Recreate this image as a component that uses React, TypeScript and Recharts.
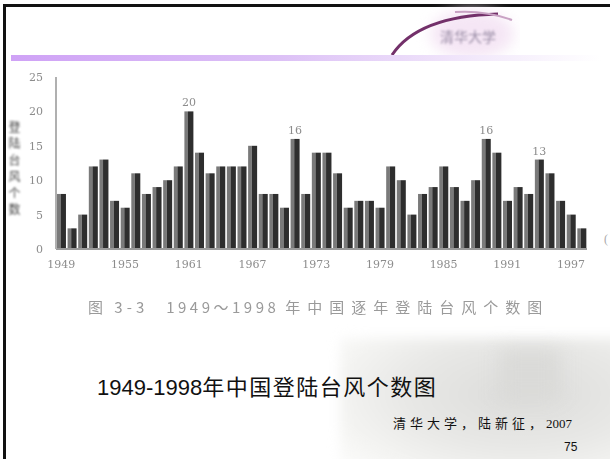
import { BarChart, Bar, XAxis, YAxis, LabelList } from 'recharts';

// Typhoon landfalls in China per year, 1949-1998
const YEARS = [
  '1949', '1950', '1951', '1952', '1953', '1954', '1955', '1956', '1957', '1958',
  '1959', '1960', '1961', '1962', '1963', '1964', '1965', '1966', '1967', '1968',
  '1969', '1970', '1971', '1972', '1973', '1974', '1975', '1976', '1977', '1978',
  '1979', '1980', '1981', '1982', '1983', '1984', '1985', '1986', '1987', '1988',
  '1989', '1990', '1991', '1992', '1993', '1994', '1995', '1996', '1997', '1998',
];
const LANDFALLS = [
  8, 3, 5, 12, 13, 7, 6, 11, 8, 9,
  10, 12, 20, 14, 11, 12, 12, 12, 15, 8,
  8, 6, 16, 8, 14, 14, 11, 6, 7, 7,
  6, 12, 10, 5, 8, 9, 12, 9, 7, 10,
  16, 14, 7, 9, 8, 13, 11, 7, 5, 3,
];
// years whose bar carries its value on top
const LABELLED_YEARS = ['1961', '1971', '1989', '1994'];
const Y_TICKS = [0, 5, 10, 15, 20, 25];

const data = YEARS.map((year, i) => ({ year, count: LANDFALLS[i] }));

const CJK = '"Noto Sans CJK SC", "Liberation Sans", sans-serif';
const SCAN_GRAY = '#8c8c8c';

// printed bars: a mid-gray left edge and a dark right side
const TwoToneBar = (props: any) => {
  const { x, y, width, height } = props;
  if (!height || height <= 0) return null;
  const split = width * 0.4;
  return (
    <g>
      <rect x={x} y={y} width={split} height={height} fill="#7a7a7a" />
      <rect x={x + split} y={y} width={width - split} height={height} fill="#2e2e2e" />
    </g>
  );
};

const PeakLabel = (props: any) => {
  const { x, y, width, value, index } = props;
  if (!LABELLED_YEARS.includes(YEARS[index])) return null;
  return (
    <text
      x={x + width / 2}
      y={y - 5}
      textAnchor="middle"
      fill={SCAN_GRAY}
      fontSize={11}
      fontFamily="'DejaVu Serif', serif"
    >
      {value}
    </text>
  );
};

function Logo() {
  return (
    <svg width={140} height={56} style={{ position: 'absolute', left: 380, top: 4 }}>
      <ellipse cx={92} cy={30} rx={42} ry={24} fill="#f5e6f5" style={{ filter: 'blur(7px)' }} />
      <path d="M 12 51 Q 38 12 118 10" stroke="#73306a" strokeWidth={3} fill="none" />
      <path d="M 75 8 Q 105 6 132 16" stroke="#c9a2c4" strokeWidth={2} fill="none" />
      <text
        x={60}
        y={38}
        fontSize={14}
        fontFamily={CJK}
        fill="#9a8ea6"
        style={{ filter: 'blur(0.9px)' }}
      >
        清华大学
      </text>
    </svg>
  );
}

export default function App() {
  return (
    <div
      style={{
        position: 'absolute',
        left: 0,
        top: 0,
        width: 610,
        height: 459,
        background: '#fff',
        overflow: 'hidden',
      }}
    >
      {/* slide frame */}
      <div style={{ position: 'absolute', left: 3, top: 4, width: 607, height: 3, background: '#111' }} />
      <div style={{ position: 'absolute', left: 3, top: 4, width: 3, height: 455, background: '#111' }} />

      <Logo />
      <div
        style={{
          position: 'absolute',
          left: 11,
          top: 55,
          width: 590,
          height: 6,
          background: 'linear-gradient(to right, #cfa2f6, #dcc0f6 45%, #f3eafb 80%, #fff)',
        }}
      />

      {/* soft background picture in the lower right corner */}
      <div
        style={{
          position: 'absolute',
          left: 340,
          top: 338,
          width: 290,
          height: 140,
          background:
            'radial-gradient(ellipse at 62% 40%, #dcdcda 0%, #e8e8e6 45%, #f5f5f3 75%, rgba(255,255,255,0) 100%)',
          filter: 'blur(6px)',
        }}
      />
      <div
        style={{
          position: 'absolute',
          left: 500,
          top: 350,
          width: 60,
          height: 50,
          background: '#dadad8',
          filter: 'blur(9px)',
        }}
      />

      {/* axis title, printed vertically */}
      <div
        style={{
          position: 'absolute',
          left: 6,
          top: 121,
          writingMode: 'vertical-rl',
          fontFamily: CJK,
          fontSize: 12,
          letterSpacing: 4.5,
          color: '#484848',
          filter: 'blur(0.8px)',
        }}
      >
        登陆台风个数
      </div>

      <div style={{ position: 'absolute', left: 0, top: 0, filter: 'blur(0.5px)' }}>
        <BarChart
          width={610}
          height={290}
          data={data}
          margin={{ top: 77, right: 23, left: 0, bottom: 0 }}
          barCategoryGap="9%"
        >
          <XAxis
            dataKey="year"
            height={41}
            interval={5}
            axisLine={{ stroke: '#9a9a9a', strokeWidth: 2 }}
            tickLine={false}
            tickMargin={5}
            tick={{ fill: SCAN_GRAY, fontSize: 11, fontFamily: "'DejaVu Serif', serif" }}
          />
          <YAxis
            width={56}
            domain={[0, 25]}
            ticks={Y_TICKS}
            interval={0}
            axisLine={{ stroke: '#b0b0b0', strokeWidth: 2 }}
            tickLine={false}
            tickMargin={7}
            tick={{ fill: SCAN_GRAY, fontSize: 11, fontFamily: "'DejaVu Serif', serif" }}
          />
          <Bar dataKey="count" shape={<TwoToneBar />} isAnimationActive={false}>
            <LabelList dataKey="count" content={<PeakLabel />} />
          </Bar>
        </BarChart>
      </div>

      <div
        style={{
          position: 'absolute',
          left: 604,
          top: 232,
          fontSize: 12,
          color: '#aaa',
          fontFamily: 'serif',
        }}
      >
        (
      </div>

      {/* printed figure caption */}
      <div
        style={{
          position: 'absolute',
          left: 88,
          top: 296,
          whiteSpace: 'nowrap',
          fontFamily: CJK,
          fontSize: 15,
          color: '#9a9a9a',
          filter: 'blur(0.7px)',
        }}
      >
        <span style={{ letterSpacing: 4, marginRight: 18 }}>图 3-3</span>
        <span style={{ letterSpacing: 3.5, marginRight: 6 }}>1949～1998</span>
        <span style={{ letterSpacing: 7 }}>年中国逐年登陆台风个数图</span>
      </div>

      <div
        style={{
          position: 'absolute',
          left: 97,
          top: 369,
          whiteSpace: 'nowrap',
          fontFamily: '"Liberation Sans", "Noto Sans CJK SC", sans-serif',
          fontSize: 22,
          color: '#111',
        }}
      >
        1949-1998<span style={{ letterSpacing: 1.5 }}>年中国登陆台风个数图</span>
      </div>

      <div
        style={{
          position: 'absolute',
          left: 393,
          top: 413,
          whiteSpace: 'nowrap',
          fontFamily: '"Liberation Serif", "Noto Sans CJK SC", serif',
          fontSize: 13,
          color: '#111',
        }}
      >
        <span style={{ letterSpacing: 4 }}>清华大学，陆新征，</span>2007
      </div>
      <div
        style={{
          position: 'absolute',
          left: 564,
          top: 440,
          fontFamily: '"Liberation Sans", sans-serif',
          fontSize: 12,
          color: '#111',
        }}
      >
        75
      </div>
    </div>
  );
}
